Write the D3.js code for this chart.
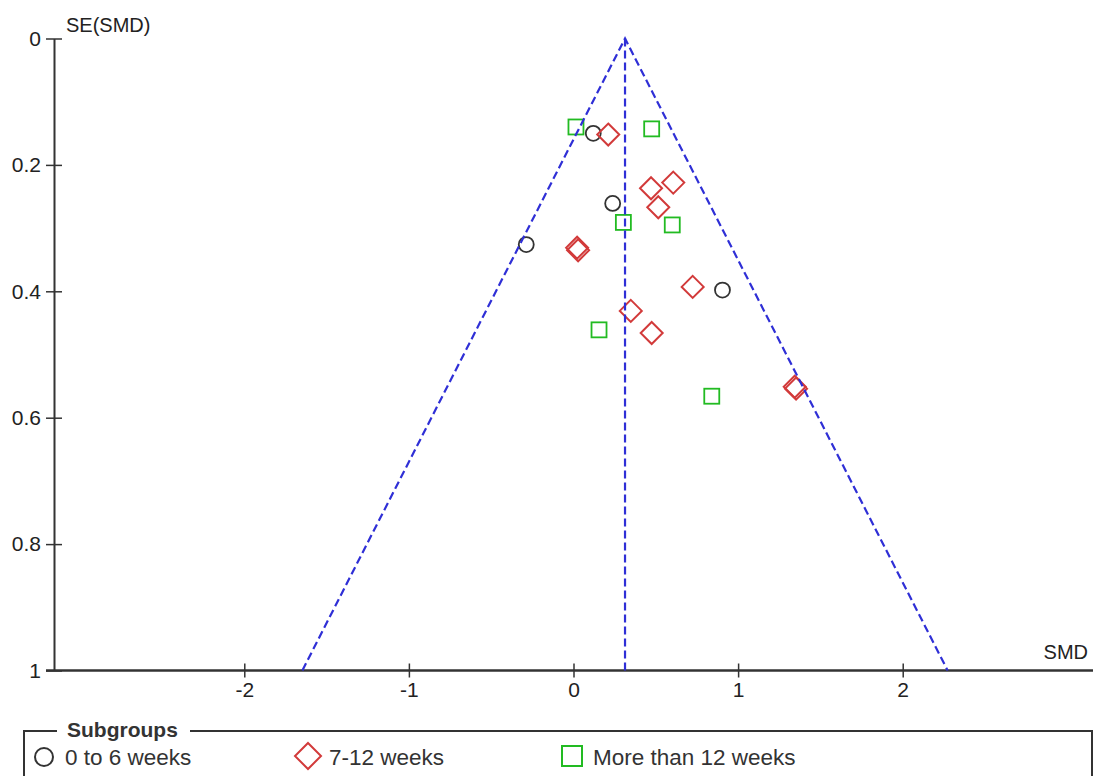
<!DOCTYPE html>
<html>
<head>
<meta charset="utf-8">
<script src="https://cdn.jsdelivr.net/npm/d3@7"></script>
<style>
  body { margin: 0; background: #fff; }
  svg { font-family: "Liberation Sans", Arial, sans-serif; display: block; }
</style>
</head>
<body>
<script>
// pooled estimate and the y/x tick values
const pooled = 0.313;
const yTicks = [0, 0.2, 0.4, 0.6, 0.8, 1];
const xTicks = [-2, -1, 0, 1, 2];

// [SMD, SE(SMD)] per study, one array per subgroup
const weeks0to6 = [[0.120, 0.150], [0.238, 0.261], [-0.287, 0.326], [0.905, 0.398]];
const weeks7to12 = [
  [0.211, 0.152], [0.471, 0.237], [0.606, 0.228], [0.515, 0.267],
  [0.022, 0.331], [0.028, 0.335], [0.724, 0.393], [0.348, 0.431],
  [0.475, 0.466], [1.344, 0.551], [1.352, 0.554]
];
const weeksOver12 = [[0.015, 0.140], [0.475, 0.143], [0.303, 0.291], [0.600, 0.295], [0.155, 0.461], [0.840, 0.566]];

const legendLabels = ["0 to 6 weeks", "7-12 weeks", "More than 12 weeks"];

const width = 1093, height = 776;
const blue = "#2f2fd6", red = "#d23a3a", green = "#22bb22", ink = "#333";

const x = d3.scaleLinear().domain([-3.156, 3.156]).range([54, 1093]);
const y = d3.scaleLinear().domain([0, 1]).range([38.5, 670.5]);

const svg = d3.select("body").append("svg")
  .attr("width", width).attr("height", height);

// axes, ticks crossing the axis line
const yAxis = d3.axisLeft(y).tickValues(yTicks).tickFormat(d => String(d)).tickSizeInner(8).tickSizeOuter(0).tickPadding(5);
const gy = svg.append("g").attr("transform", `translate(${x.range()[0]},0)`).call(yAxis);
gy.select(".domain").attr("stroke", ink).attr("stroke-width", 2);
gy.selectAll(".tick line").attr("stroke", ink).attr("stroke-width", 1.5).attr("x2", 8).attr("x1", -8);
gy.selectAll(".tick text").attr("font-size", 21).attr("fill", "#222").attr("x", -13);

const xAxis = d3.axisBottom(x).tickValues(xTicks).tickFormat(d => String(d)).tickSizeInner(7).tickSizeOuter(0).tickPadding(6);
const gx = svg.append("g").attr("transform", `translate(0,${y(1)})`).call(xAxis);
gx.select(".domain").attr("stroke", ink).attr("stroke-width", 2.5).attr("d", `M46,0H${width}`);
gx.selectAll(".tick line").attr("stroke", ink).attr("stroke-width", 1.5).attr("y1", -7).attr("y2", 7);
gx.selectAll(".tick text").attr("font-size", 21).attr("fill", "#222").attr("y", 12);

svg.append("text").attr("x", 66).attr("y", 32).attr("font-size", 20).attr("fill", "#222").text("SE(SMD)");
svg.append("text").attr("x", 1088).attr("y", 659).attr("text-anchor", "end").attr("font-size", 20).attr("fill", "#222").text("SMD");

// markers
const plot = svg.append("g");
plot.selectAll("circle").data(weeks0to6).join("circle")
  .attr("cx", d => x(d[0])).attr("cy", d => y(d[1])).attr("r", 7.5)
  .attr("fill", "none").attr("stroke", ink).attr("stroke-width", 1.8);

const diamond = (cx, cy, s) => `M${cx},${cy - s}L${cx + s},${cy}L${cx},${cy + s}L${cx - s},${cy}Z`;
plot.selectAll("path.d").data(weeks7to12).join("path").attr("class", "d")
  .attr("d", d => diamond(x(d[0]), y(d[1]), 11))
  .attr("fill", "none").attr("stroke", red).attr("stroke-width", 2);

plot.selectAll("rect").data(weeksOver12).join("rect")
  .attr("x", d => x(d[0]) - 7.5).attr("y", d => y(d[1]) - 7.5)
  .attr("width", 15).attr("height", 15)
  .attr("fill", "none").attr("stroke", green).attr("stroke-width", 1.8);

// funnel
const funnel = [[pooled - 1.96, 1], [pooled, 0], [pooled + 1.96, 1]];
svg.append("path")
  .attr("d", d3.line().x(d => x(d[0])).y(d => y(d[1]))(funnel))
  .attr("fill", "none").attr("stroke", blue).attr("stroke-width", 2.2).attr("stroke-dasharray", "8,4");
svg.append("line")
  .attr("x1", x(pooled)).attr("x2", x(pooled)).attr("y1", y(0)).attr("y2", y(1))
  .attr("stroke", blue).attr("stroke-width", 2.2).attr("stroke-dasharray", "8,4");

// legend
const lg = svg.append("g");
lg.append("path").attr("d", `M57,731H24V${height}`).attr("fill", "none").attr("stroke", ink).attr("stroke-width", 2);
lg.append("path").attr("d", `M190,731H1092V${height}`).attr("fill", "none").attr("stroke", ink).attr("stroke-width", 2);
lg.append("text").attr("x", 67).attr("y", 737).attr("font-size", 21).attr("font-weight", "bold").attr("fill", "#333").text("Subgroups");

const itemX = [44, 308, 572];
lg.append("circle").attr("cx", itemX[0]).attr("cy", 757).attr("r", 9)
  .attr("fill", "none").attr("stroke", ink).attr("stroke-width", 2);
lg.append("path").attr("d", diamond(itemX[1], 756, 13))
  .attr("fill", "none").attr("stroke", red).attr("stroke-width", 2);
lg.append("rect").attr("x", itemX[2] - 10).attr("y", 746).attr("width", 20).attr("height", 20)
  .attr("fill", "none").attr("stroke", green).attr("stroke-width", 2);
lg.selectAll("text.item").data(legendLabels).join("text").attr("class", "item")
  .attr("x", (d, i) => itemX[i] + 21).attr("y", 765).attr("font-size", 22.5).attr("fill", "#333").text(d => d);
</script>
</body>
</html>
